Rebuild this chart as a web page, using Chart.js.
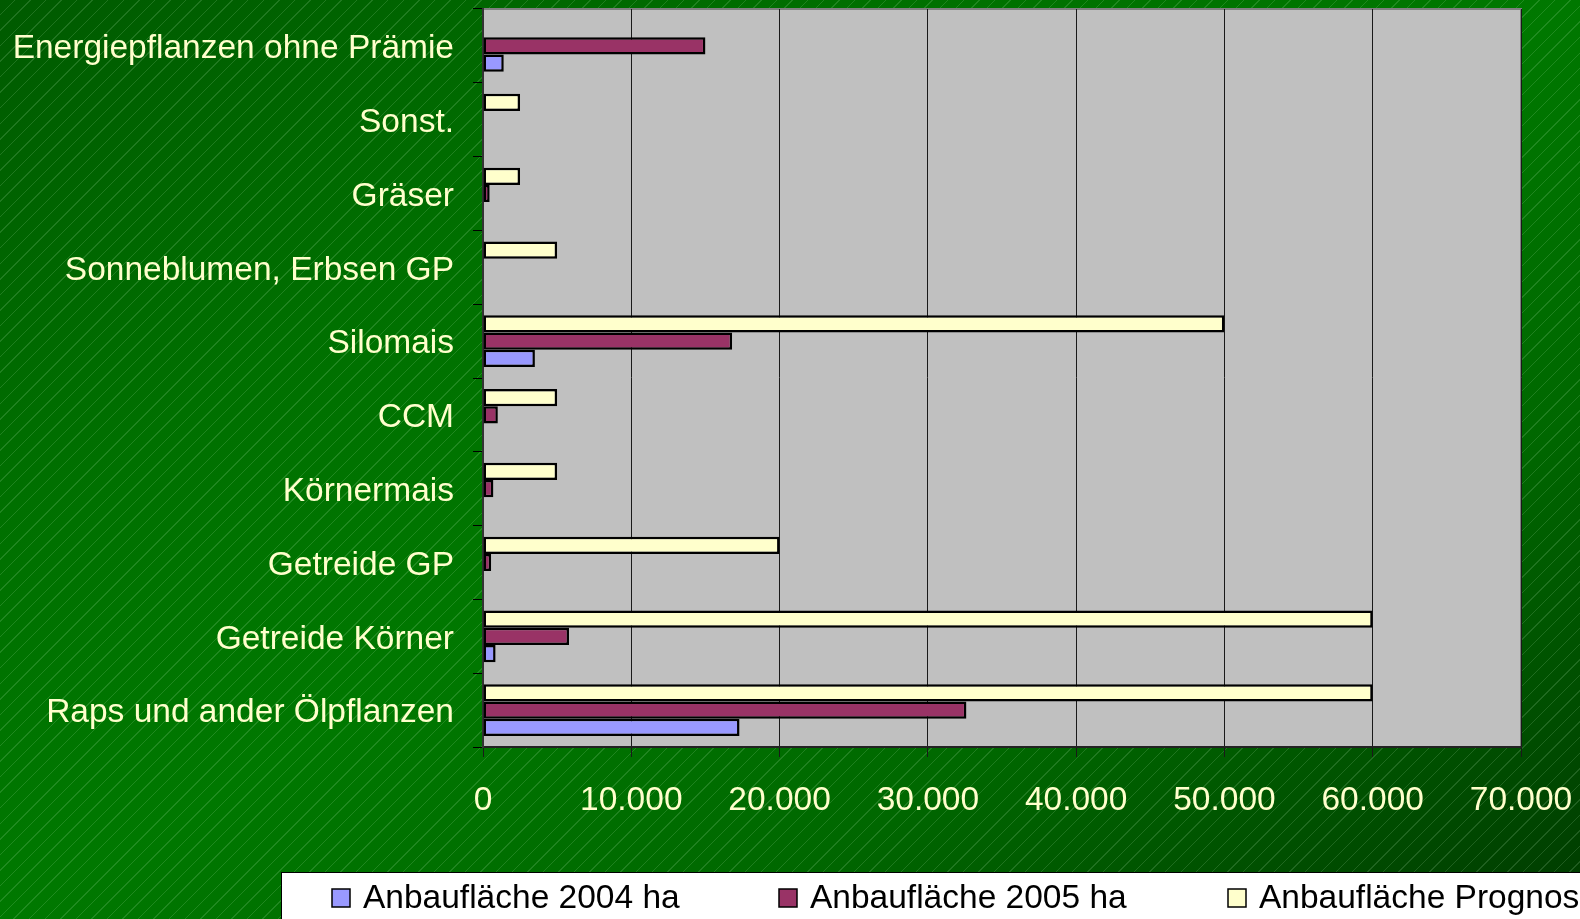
<!DOCTYPE html>
<html>
<head>
<meta charset="utf-8">
<script src="https://cdn.jsdelivr.net/npm/chart.js@4"></script>
<style>
  html, body { margin: 0; padding: 0; overflow: hidden; }
  body {
    width: 1580px;
    height: 919px;
    background:
      repeating-linear-gradient(135deg, rgba(255,255,255,0) 0px, rgba(255,255,255,0) 10px, rgba(210,255,210,0.15) 10px, rgba(210,255,210,0.15) 11px),
      linear-gradient(to bottom right, #005a00 0%, #007000 28%, #007800 50%, #006800 72%, #003a00 100%);
  }
  canvas { display: block; }
</style>
</head>
<body>
<canvas id="myChart" width="1580" height="919"></canvas>
<script>
// categories, top to bottom as in the picture
const categories = [
  "Energiepflanzen ohne Prämie",
  "Sonst.",
  "Gräser",
  "Sonneblumen, Erbsen GP",
  "Silomais",
  "CCM",
  "Körnermais",
  "Getreide GP",
  "Getreide Körner",
  "Raps und ander Ölpflanzen",
];
// ha per category
const area2004 = [1400, null, null, null, 3500, null, null, null, 850, 17300];
const area2005 = [15000, null, 450, null, 16800, 1000, 700, 550, 5800, 32600];
const areaPrognose = [null, 2500, 2500, 5000, 50000, 5000, 5000, 20000, 60000, 60000];
const xTicks = [0, 10000, 20000, 30000, 40000, 50000, 60000, 70000];

const labelFont = { family: "'Liberation Sans', Arial, sans-serif", size: 33.5 };

function fmtDe(v) {
  return String(v).replace(/\B(?=(\d{3})+(?!\d))/g, ".");
}

// grey plot background + border
const plotBg = {
  id: "plotBg",
  beforeDraw(chart) {
    const { ctx, chartArea: a } = chart;
    ctx.save();
    ctx.fillStyle = "#c0c0c0";
    ctx.fillRect(a.left, a.top, a.right - a.left, a.bottom - a.top);
    ctx.strokeStyle = "#808080";
    ctx.lineWidth = 2;
    ctx.strokeRect(a.left, a.top, a.right - a.left, a.bottom - a.top);
    ctx.restore();
  },
};

// white legend box at the bottom (cut off at the right, like the original)
const boxLegend = {
  id: "boxLegend",
  afterDraw(chart) {
    const ctx = chart.ctx;
    const xs = [332, 779, 1228];
    const sets = chart.data.datasets.slice().reverse();
    ctx.save();
    ctx.fillStyle = "#ffffff";
    ctx.fillRect(281, 872, 1400, 60);
    ctx.strokeStyle = "#000";
    ctx.lineWidth = 1;
    ctx.strokeRect(281.5, 872.5, 1400, 60);
    ctx.font = labelFont.size + "px " + labelFont.family;
    ctx.textBaseline = "middle";
    sets.forEach((ds, i) => {
      ctx.fillStyle = ds.backgroundColor;
      ctx.fillRect(xs[i], 889, 18, 18);
      ctx.strokeStyle = "#000";
      ctx.lineWidth = 1.5;
      ctx.strokeRect(xs[i], 889, 18, 18);
      ctx.fillStyle = "#000";
      ctx.fillText(ds.label, xs[i] + 31, 899);
    });
    ctx.restore();
  },
};

initChart();

function initChart() {
  const ctx = document.getElementById("myChart").getContext("2d");
  window.chart = new Chart(ctx, {
    type: "bar",
    data: {
      labels: categories,
      datasets: [
        {
          label: "Anbaufläche Prognose 2010 ha",
          backgroundColor: "#ffffcc",
          data: areaPrognose,
        },
        {
          label: "Anbaufläche 2005 ha",
          backgroundColor: "#993366",
          data: area2005,
        },
        {
          label: "Anbaufläche 2004 ha",
          backgroundColor: "#9999ff",
          data: area2004,
        },
      ],
    },
    options: {
      indexAxis: "y",
      responsive: false,
      animation: false,
      devicePixelRatio: 1,
      layout: { padding: { top: 9, right: 59, left: 0, bottom: 0 } },
      datasets: {
        bar: {
          borderColor: "#000",
          borderWidth: 2.5,
          borderSkipped: false,
          categoryPercentage: 0.7,
          barPercentage: 1.0,
        },
      },
      plugins: {
        legend: { display: false },
        tooltip: { enabled: false },
      },
      scales: {
        x: {
          min: 0,
          max: 70000,
          afterBuildTicks(scale) {
            scale.ticks = xTicks.map((v) => ({ value: v }));
          },
          afterFit(scale) {
            scale.height = 172;
            scale.paddingLeft = 0;
            scale.paddingRight = 0;
          },
          grid: {
            color: "#1a1a1a",
            lineWidth: 1,
            tickLength: 10,
            drawTicks: true,
          },
          border: { color: "#222", width: 2 },
          ticks: {
            color: "#ffffcc",
            font: labelFont,
            padding: 24,
            maxRotation: 0,
            callback: (v) => fmtDe(v),
          },
        },
        y: {
          afterFit(scale) {
            scale.width = 483;
            scale.paddingTop = 0;
            scale.paddingBottom = 0;
          },
          grid: {
            drawOnChartArea: false,
            offset: true,
            color: "#000",
            tickLength: 10,
          },
          border: { color: "#333", width: 2 },
          ticks: {
            color: "#ffffcc",
            font: labelFont,
            padding: 19,
            labelOffset: 3,
            autoSkip: false,
          },
        },
      },
    },
    plugins: [plotBg, boxLegend],
  });
}
</script>
</body>
</html>
